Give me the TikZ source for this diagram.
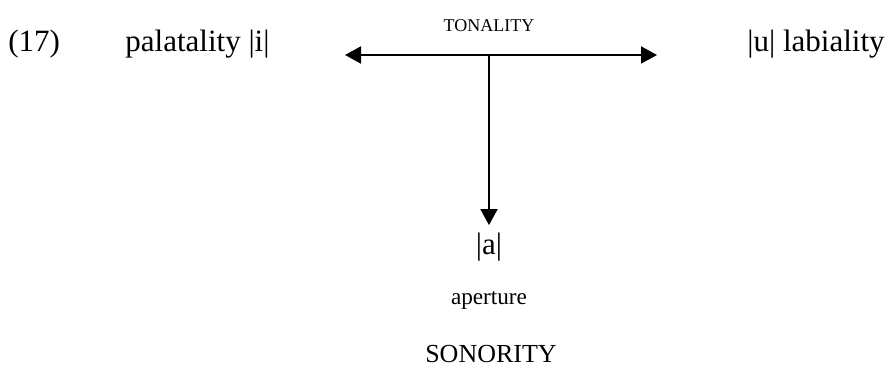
\documentclass[tikz,border=0pt]{standalone}
\usepackage{fontspec}
\setmainfont{Liberation Serif}
\usetikzlibrary{arrows.meta}
\begin{document}
\begin{tikzpicture}[x=0.5pt,y=-0.5pt,every node/.style={inner sep=0pt,font=\fontsize{15.5}{18}\selectfont}]
\useasboundingbox (0,0) rectangle (889,367);
\tikzset{axis/.style={line width=1pt,-{Triangle[length=8pt,width=8.5pt]}}}
% labels of the tonality axis
\node[anchor=base west] (num) at (8,52) {(17)};
\node[anchor=base west] (pal) at (125,52) {palatality |i|};
\node[anchor=base east] (lab) at (885,52) {|u| labiality};
\node[anchor=base,font=\fontsize{9}{11}\selectfont] (ton) at (489,32) {TONALITY};
% sonority side
\node[anchor=base] (a) at (489,255) {|a|};
\node[anchor=base,font=\fontsize{11.6}{14}\selectfont] (ap) at (489,305) {aperture};
\node[anchor=base,font=\fontsize{13}{16}\selectfont] (son) at (491,363) {SONORITY};
% axes
\coordinate (jn) at (489,55);
\coordinate (ltip) at (345,55);
\coordinate (rtip) at (657,55);
\draw[axis] (jn) -- (ltip);
\draw[axis] (jn) -- (rtip);
\draw[axis] (jn) -- ([yshift=4pt]a.north);
\end{tikzpicture}
\end{document}
